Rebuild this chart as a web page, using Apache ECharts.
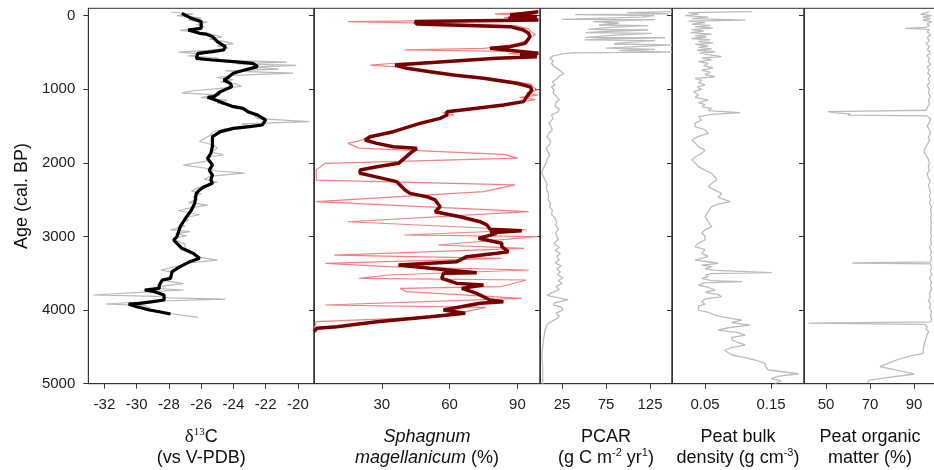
<!DOCTYPE html>
<html><head><meta charset="utf-8">
<script src="https://cdn.jsdelivr.net/npm/echarts@6/dist/echarts.min.js"></script>
<style>html,body{margin:0;padding:0;background:#fff}#c{width:934px;height:470px}</style>
</head><body><div id="c"></div>
<script>
// ---- tick labels ----
const ageTicks = [0, 1000, 2000, 3000, 4000, 5000];
const d13cTicks = [-32, -30, -28, -26, -24, -22, -20];
const sphTicks = [30, 60, 90];
const pcarTicks = [25, 75, 125];
const bdTicks = [0.05, 0.15];
const omTicks = [50, 70, 90];

// ---- data: [age (cal. BP), value] ----
const d13cRaw = [[-50,-27.9],[-20,-26.5],[0,-27.5],[30,-26.0],[60,-26.8],[90,-25.6],[120,-26.3],[150,-25.8],[180,-26.6],[200,-27.3],[230,-25.9],[260,-25.2],[290,-24.7],[320,-25.5],[350,-24.6],[380,-24.0],[410,-25.0],[440,-24.3],[470,-25.6],[495,-27.4],[520,-25.8],[545,-26.8],[575,-24.9],[600,-25.5],[630,-20.7],[655,-23.8],[675,-20.1],[700,-22.8],[725,-21.2],[750,-24.5],[780,-20.3],[810,-24.0],[840,-25.0],[870,-24.0],[900,-24.8],[930,-23.8],[960,-23.5],[990,-25.0],[1020,-26.5],[1050,-27.2],[1080,-24.8],[1110,-26.0],[1150,-24.4],[1190,-25.0],[1230,-23.8],[1270,-23.5],[1320,-23.0],[1360,-22.7],[1400,-22.5],[1440,-19.3],[1470,-23.5],[1500,-22.9],[1540,-24.6],[1580,-25.3],[1620,-25.4],[1660,-25.7],[1710,-26.1],[1760,-25.2],[1800,-25.0],[1850,-25.4],[1890,-24.6],[1930,-25.7],[1970,-25.5],[2000,-26.3],[2030,-27.1],[2070,-25.8],[2110,-25.0],[2140,-23.3],[2180,-25.4],[2220,-25.8],[2260,-25.0],[2300,-25.6],[2340,-26.2],[2380,-26.6],[2420,-26.0],[2460,-26.5],[2500,-26.2],[2540,-26.8],[2575,-25.6],[2620,-26.9],[2650,-27.4],[2705,-26.1],[2740,-27.0],[2780,-26.8],[2820,-27.3],[2860,-27.0],[2910,-27.9],[2935,-26.7],[2960,-27.6],[2990,-26.9],[3020,-27.7],[3060,-27.5],[3100,-27.0],[3160,-27.0],[3220,-26.4],[3280,-26.2],[3320,-25.0],[3360,-26.8],[3400,-27.4],[3455,-28.5],[3480,-27.9],[3520,-27.8],[3560,-28.0],[3600,-28.3],[3640,-27.1],[3680,-28.7],[3705,-28.9],[3727,-27.1],[3750,-29.0],[3795,-32.7],[3815,-28.7],[3835,-28.0],[3852,-24.5],[3880,-29.0],[3917,-31.9],[3940,-29.5],[3970,-29.2],[4000,-29.5],[4030,-28.6],[4060,-27.5],[4099,-26.2]];
const d13cSmooth = [[-32,-27.2],[36,-26.6],[81,-26.0],[172,-26.0],[195,-26.8],[240,-26.1],[250,-25.7],[285,-25.3],[353,-25.0],[421,-24.5],[466,-24.6],[489,-25.3],[512,-26.2],[580,-26.3],[602,-25.3],[625,-24.0],[647,-22.8],[693,-22.5],[738,-23.3],[761,-23.7],[783,-24.0],[851,-24.4],[874,-24.6],[919,-24.2],[965,-24.1],[1032,-24.8],[1100,-25.2],[1109,-25.6],[1146,-25.1],[1191,-24.6],[1236,-24.0],[1259,-23.4],[1304,-23.1],[1350,-22.5],[1417,-22.0],[1485,-22.2],[1508,-23.0],[1531,-24.0],[1576,-24.8],[1644,-25.3],[1780,-25.3],[1870,-25.4],[1938,-25.6],[2029,-25.3],[2097,-25.5],[2165,-25.3],[2233,-25.4],[2278,-25.3],[2323,-25.8],[2368,-26.1],[2414,-26.3],[2550,-26.4],[2640,-26.6],[2731,-26.9],[2867,-27.3],[3003,-27.5],[3048,-27.7],[3161,-27.2],[3229,-26.5],[3297,-26.1],[3342,-26.7],[3410,-27.3],[3478,-27.8],[3569,-27.9],[3591,-28.4],[3659,-28.6],[3705,-28.6],[3727,-29.5],[3750,-28.9],[3795,-28.3],[3863,-28.3],[3886,-29.0],[3908,-29.8],[3917,-30.5],[3954,-30.0],[3999,-29.2],[4022,-28.6],[4053,-27.9]];

const sphRaw = [[-50,98],[-25,80],[0,97],[30,84],[55,99],[80,15],[110,62],[140,90],[180,95],[220,96],[260,98],[300,95],[340,94],[380,90],[420,82],[445,75],[466,40],[490,96],[515,86],[540,99],[560,90],[585,80],[620,58],[650,34],[672,25],[700,38],[730,46],[770,52],[810,64],[850,78],[890,87],[930,96],[970,97],[1010,99],[1050,94],[1080,99],[1110,91],[1140,98],[1170,92],[1210,84],[1250,73],[1290,62],[1320,57],[1350,62],[1390,55],[1430,51],[1470,46],[1530,40],[1590,34],[1650,26],[1700,20],[1735,15],[1800,20],[1885,84],[1935,90],[2006,5],[2095,1],[2235,1],[2300,89],[2390,75],[2527,1],[2663,95],[2800,15],[2912,94],[2980,40],[3003,99],[3116,55],[3161,93],[3185,93],[3252,9],[3297,83],[3365,5],[3410,33],[3455,95],[3523,33],[3569,20],[3591,94],[3680,83],[3705,38],[3750,41],[3840,92],[3931,5],[3963,76],[4090,57],[4157,1],[4271,0],[4293,0]];
const sphSmooth = [[-54,99.3],[-9,86.8],[13,98.6],[36,86.0],[59,99.3],[81,44.7],[113,45.5],[149,86.8],[195,92.7],[240,94.9],[285,95.6],[376,93.4],[421,86.8],[444,77.9],[466,78.7],[489,92.7],[512,99.3],[534,91.2],[557,98.6],[580,80.9],[625,57.3],[670,35.9],[693,35.1],[715,41.1],[761,51.4],[806,61.7],[851,75.0],[919,89.7],[965,95.6],[1010,96.4],[1100,94.2],[1168,92.7],[1214,83.8],[1259,72.0],[1304,58.8],[1350,58.8],[1395,55.8],[1463,46.9],[1576,35.1],[1644,24.8],[1689,22.6],[1735,27.8],[1780,35.1],[1802,45.5],[1870,42.5],[2006,37.4],[2052,27.8],[2097,20.4],[2142,20.4],[2187,27.0],[2255,36.6],[2368,40.3],[2414,42.5],[2459,49.9],[2504,53.6],[2595,55.8],[2663,53.6],[2731,64.6],[2799,73.5],[2844,76.5],[2903,77.9],[2921,91.9],[2948,77.9],[2957,80.9],[3025,72.8],[3093,83.1],[3138,83.1],[3206,86.0],[3229,80.9],[3274,67.6],[3342,63.2],[3388,37.4],[3433,51.4],[3492,72.0],[3501,57.3],[3569,56.5],[3637,63.2],[3659,75.0],[3705,65.4],[3773,72.0],[3863,77.9],[3886,83.8],[3908,73.5],[3999,57.3],[4044,66.9],[4090,51.4],[4157,27.8],[4225,10.1],[4248,1.2],[4293,0]];

const pcar = [[-55,150],[-40,99],[-23,146],[-15,40],[0,130],[20,115],[50,25],[55,131],[80,60],[100,90],[127,67],[135,123],[160,80],[186,55],[195,123],[215,72],[231,52],[240,127],[265,85],[294,52],[300,142],[315,70],[330,51],[340,131],[365,95],[385,84],[398,150],[420,110],[440,75],[457,131],[475,90],[495,150],[505,38],[515,27],[530,22],[545,15],[560,13],[580,11],[610,15],[650,13],[690,16],[720,20],[750,23],[790,27],[820,22],[860,19],[900,14],[940,17],[970,13],[1010,16],[1050,15],[1100,19],[1140,22],[1180,18],[1230,17],[1270,22],[1310,20],[1350,13],[1400,15],[1450,10],[1500,12],[1550,14],[1600,10],[1650,8],[1700,12],[1750,11],[1800,7],[1850,9],[1900,11],[1950,8],[2000,7],[2050,5],[2100,3],[2140,2],[2190,4],[2240,6],[2290,8],[2340,7],[2400,9],[2450,10],[2500,9],[2550,12],[2600,11],[2650,14],[2700,13],[2750,17],[2800,19],[2850,18],[2900,21],[2950,18],[3000,19],[3030,21],[3070,18],[3100,16],[3150,22],[3190,17],[3230,23],[3270,19],[3320,22],[3360,17],[3400,24],[3440,19],[3480,23],[3520,20],[3560,26],[3600,21],[3640,25],[3680,18],[3720,22],[3760,14],[3800,8],[3820,6],[3862,32],[3900,17],[3930,15],[3960,24],[4000,26],[4040,18],[4080,22],[4110,20],[4160,12],[4200,8],[4260,6],[4330,5],[4400,4],[4500,3],[4630,2],[4750,3],[4900,3],[5000,3]];

const bulkDensity = [[-55,0.121],[-40,0.025],[-20,0.04],[0,0.02],[20,0.055],[40,0.03],[60,0.111],[75,0.025],[95,0.05],[115,0.03],[135,0.058],[150,0.035],[170,0.062],[190,0.03],[210,0.048],[230,0.028],[250,0.06],[270,0.035],[290,0.052],[310,0.03],[330,0.058],[350,0.04],[370,0.062],[390,0.035],[410,0.055],[430,0.04],[450,0.06],[470,0.038],[490,0.065],[510,0.042],[530,0.055],[557,0.075],[575,0.045],[600,0.06],[625,0.04],[650,0.055],[680,0.048],[710,0.062],[740,0.045],[770,0.058],[800,0.05],[830,0.065],[851,0.035],[880,0.045],[910,0.04],[940,0.05],[970,0.038],[1000,0.045],[1030,0.033],[1055,0.03],[1080,0.04],[1110,0.035],[1146,0.055],[1180,0.04],[1210,0.05],[1236,0.045],[1260,0.06],[1290,0.055],[1318,0.103],[1340,0.06],[1372,0.04],[1420,0.045],[1460,0.035],[1508,0.035],[1550,0.05],[1599,0.055],[1640,0.04],[1689,0.03],[1730,0.035],[1780,0.04],[1830,0.05],[1870,0.045],[1920,0.035],[1961,0.03],[2000,0.035],[2051,0.04],[2100,0.05],[2142,0.06],[2190,0.065],[2233,0.068],[2280,0.06],[2323,0.055],[2370,0.065],[2414,0.075],[2470,0.07],[2527,0.088],[2560,0.07],[2595,0.06],[2660,0.055],[2731,0.05],[2800,0.055],[2867,0.06],[2910,0.05],[2957,0.045],[2990,0.05],[3048,0.05],[3090,0.04],[3138,0.035],[3180,0.05],[3229,0.045],[3270,0.055],[3320,0.035],[3350,0.06],[3365,0.07],[3390,0.045],[3410,0.06],[3440,0.05],[3460,0.065],[3478,0.065],[3492,0.151],[3505,0.06],[3530,0.05],[3546,0.055],[3570,0.045],[3600,0.06],[3614,0.106],[3630,0.05],[3659,0.04],[3690,0.055],[3727,0.065],[3760,0.05],[3790,0.07],[3818,0.075],[3850,0.05],[3886,0.045],[3920,0.05],[3950,0.04],[3999,0.04],[4030,0.055],[4067,0.065],[4100,0.08],[4135,0.106],[4170,0.09],[4203,0.118],[4240,0.085],[4271,0.07],[4305,0.1],[4339,0.111],[4370,0.09],[4407,0.091],[4440,0.1],[4475,0.111],[4510,0.09],[4542,0.08],[4580,0.085],[4610,0.091],[4645,0.11],[4678,0.126],[4724,0.141],[4770,0.142],[4814,0.146],[4865,0.192],[4900,0.16],[4930,0.15],[4960,0.165],[4995,0.156]];

const organicMatter = [[-50,97],[-20,93],[0,98],[20,94],[40,97.5],[60,94],[80,98],[110,96],[140,97],[160,95],[172,86],[185,97],[220,96],[260,97.5],[300,96],[340,97],[380,95.5],[420,97],[460,96],[500,97.5],[540,95.8],[580,97],[620,96.5],[660,97.5],[700,96],[740,97],[780,96.2],[820,97.5],[860,96.5],[900,97.2],[950,96],[1000,97],[1050,96.5],[1100,97.5],[1150,96.5],[1200,97],[1250,96],[1285,95.5],[1305,51],[1320,54],[1335,61],[1350,60],[1362,96],[1400,97.5],[1450,97],[1500,96],[1550,97],[1600,97.5],[1650,96.5],[1700,97],[1750,96],[1800,95],[1850,94.5],[1900,95.5],[1950,96.5],[2000,97],[2050,96.5],[2100,97],[2150,96],[2200,96.5],[2250,97.5],[2300,96.5],[2350,97],[2400,97.5],[2450,97],[2500,97.5],[2550,97],[2600,98],[2650,97.5],[2700,98],[2750,97.5],[2800,98],[2850,97.5],[2900,98],[2950,97.5],[3000,98],[3050,97.5],[3100,98],[3150,97],[3200,98],[3250,97.5],[3300,98],[3345,97.5],[3360,62],[3372,97.5],[3420,98],[3470,97.5],[3520,98],[3570,97],[3620,98],[3670,97.5],[3720,98],[3770,97],[3820,97.5],[3870,96.5],[3920,97.5],[3970,97],[4020,98],[4070,97.5],[4120,98],[4160,97.5],[4178,42],[4195,95],[4230,96],[4260,95.5],[4290,96.8],[4330,96],[4380,95.5],[4430,95],[4480,94.5],[4530,94.2],[4588,94.2],[4624,88],[4678,82],[4769,74.5],[4868,90],[4950,69.5],[4990,69]];

// ---- layout ----
const FONT = '"Liberation Sans", Arial, sans-serif';
const SERIF = '"Liberation Serif", "DejaVu Serif", serif';
const AX = '#333';
const TOP = 8.3, HEIGHT = 375.4;
const richStyles = {
  n: {fontSize: 18, lineHeight: 21, fontFamily: FONT, color: '#111'},
  i: {fontSize: 18, lineHeight: 21, fontFamily: FONT, color: '#111', fontStyle: 'italic'},
  d: {fontSize: 19, lineHeight: 21, fontFamily: SERIF, color: '#111'},
  s: {fontSize: 11, lineHeight: 10, fontFamily: FONT, color: '#111', verticalAlign: 'top'},
  ss: {fontSize: 11, lineHeight: 10, fontFamily: SERIF, color: '#111', verticalAlign: 'top'}
};
const panels = [
  {left: 88.3, width: 225.7, min: -33, max: -19, ticks: d13cTicks,
   name: '{d|δ}{ss|13}{n|C}\n{n|(vs V-PDB)}'},
  {left: 314, width: 226, min: 0, max: 100, ticks: sphTicks,
   name: '{i|Sphagnum}\n{i|magellanicum}{n| (%)}'},
  {left: 540, width: 132, min: 0, max: 150, ticks: pcarTicks,
   name: '{n|PCAR}\n{n|(g C m}{s|-2}{n| yr}{s|1}{n|)}'},
  {left: 672, width: 132, min: 0, max: 0.2, ticks: bdTicks,
   name: '{n|Peat bulk}\n{n|density (g cm}{s|-3}{n|)}'},
  {left: 804, width: 132, min: 40, max: 100, ticks: omTicks,
   name: '{n|Peat organic}\n{n|matter (%)}'}
];

const grid = [], xAxis = [], yAxis = [];
panels.forEach((p, i) => {
  grid.push({left: p.left, top: TOP, width: p.width, height: HEIGHT, show: true,
    borderColor: AX, borderWidth: 1, backgroundColor: 'transparent',
    containLabel: false, outerBoundsMode: 'none'});
  xAxis.push({type: 'value', gridIndex: i, min: p.min, max: p.max, position: 'bottom',
    splitLine: {show: false},
    axisLine: {show: true, onZero: false, lineStyle: {color: AX, width: 1}},
    axisTick: {show: true, length: 5, inside: false, customValues: p.ticks, lineStyle: {color: AX}},
    axisLabel: {show: true, customValues: p.ticks, margin: 14, fontSize: 15, color: '#222', fontFamily: FONT,
      formatter: v => String(v)},
    name: p.name, nameLocation: 'middle', nameGap: 43,
    nameTextStyle: {fontSize: 18, lineHeight: 21, fontFamily: FONT, color: '#111', rich: richStyles}
  });
  yAxis.push({type: 'value', gridIndex: i, min: -100, max: 5000, inverse: true,
    splitLine: {show: false},
    axisLine: {show: true, onZero: false, lineStyle: {color: AX, width: 1}},
    axisTick: {show: true, length: 5, inside: false, customValues: ageTicks, lineStyle: {color: AX}},
    axisLabel: {show: i === 0, customValues: ageTicks, margin: 13, fontSize: 15, color: '#222', fontFamily: FONT,
      formatter: v => String(v)},
    name: i === 0 ? 'Age (cal. BP)' : '', nameLocation: 'middle', nameGap: 57,
    nameTextStyle: {fontSize: 18, fontFamily: FONT, color: '#111'}
  });
});

const toXY = arr => arr.map(p => [p[1], p[0]]);
const mk = (idx, data, color, width) => ({
  type: 'line', xAxisIndex: idx, yAxisIndex: idx, data: toXY(data),
  symbol: 'none', showSymbol: false, silent: true, clip: true,
  lineStyle: {color: color, width: width}, z: 2
});

const chart = echarts.init(document.getElementById('c'), null, {renderer: 'canvas'});
chart.setOption({
  animation: false,
  backgroundColor: '#fff',
  grid, xAxis, yAxis,
  series: [
    mk(0, d13cRaw, '#b9b9b9', 1.2),
    mk(0, d13cSmooth, '#000000', 3.2),
    mk(1, sphRaw, '#f48080', 1.2),
    mk(1, sphSmooth, '#780000', 3.5),
    mk(2, pcar, '#bcbcbc', 1.3),
    mk(3, bulkDensity, '#bcbcbc', 1.3),
    mk(4, organicMatter, '#bcbcbc', 1.3)
  ]
});
</script>
</body></html>
